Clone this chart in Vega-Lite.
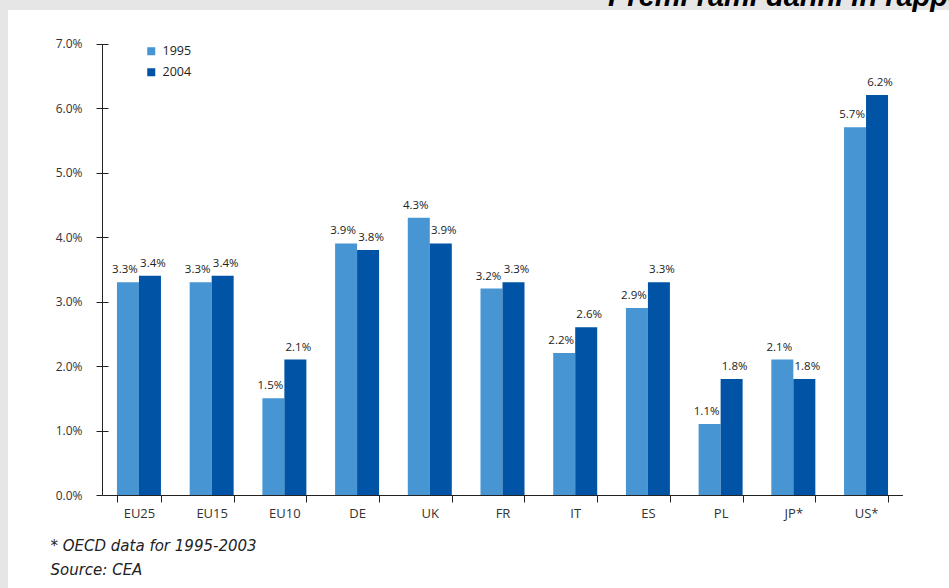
{
  "$schema": "https://vega.github.io/schema/vega-lite/v6.json",
  "autosize": "none",
  "padding": {"left": 8, "top": 10, "right": 0, "bottom": 0},
  "width": 941,
  "height": 578,
  "background": "#e6e6e6",
  "title": {
    "text": "Premi rami danni in rapporto al PIL",
    "orient": "top",
    "anchor": "start",
    "frame": "group",
    "dx": 600,
    "dy": 25,
    "offset": 0,
    "baseline": "alphabetic",
    "font": "Liberation Sans",
    "fontSize": 29,
    "fontWeight": "bold",
    "fontStyle": "italic",
    "color": "#000000"
  },
  "config": {
    "view": {"fill": "#ffffff", "stroke": null},
    "font": "Open Sans",
    "axis": {
      "domainColor": "#222222",
      "tickColor": "#222222",
      "labelColor": "#333333",
      "labelFont": "Open Sans",
      "labelFontSize": 12,
      "grid": false
    }
  },
  "data": {
    "values": [
      {"country": "EU25", "year": "1995", "share": 0.033},
      {"country": "EU25", "year": "2004", "share": 0.034},
      {"country": "EU15", "year": "1995", "share": 0.033},
      {"country": "EU15", "year": "2004", "share": 0.034},
      {"country": "EU10", "year": "1995", "share": 0.015},
      {"country": "EU10", "year": "2004", "share": 0.021},
      {"country": "DE", "year": "1995", "share": 0.039},
      {"country": "DE", "year": "2004", "share": 0.038},
      {"country": "UK", "year": "1995", "share": 0.043},
      {"country": "UK", "year": "2004", "share": 0.039},
      {"country": "FR", "year": "1995", "share": 0.032},
      {"country": "FR", "year": "2004", "share": 0.033},
      {"country": "IT", "year": "1995", "share": 0.022},
      {"country": "IT", "year": "2004", "share": 0.026},
      {"country": "ES", "year": "1995", "share": 0.029},
      {"country": "ES", "year": "2004", "share": 0.033},
      {"country": "PL", "year": "1995", "share": 0.011},
      {"country": "PL", "year": "2004", "share": 0.018},
      {"country": "JP*", "year": "1995", "share": 0.021},
      {"country": "JP*", "year": "2004", "share": 0.018},
      {"country": "US*", "year": "1995", "share": 0.057},
      {"country": "US*", "year": "2004", "share": 0.062}
    ]
  },
  "encoding": {
    "x": {
      "field": "country",
      "type": "nominal",
      "sort": null,
      "scale": {"range": [94.6, 894.4], "paddingInner": 0.395, "paddingOuter": 0.1975},
      "axis": {
        "orient": "bottom",
        "offset": -93,
        "labelAngle": 0,
        "tickBand": "extent",
        "tickSize": 7,
        "labelPadding": 5,
        "labelFontSize": 13,
        "title": ["* OECD data for 1995-2003", "Source: CEA"],
        "titleAnchor": "start",
        "titleAlign": "left",
        "titleBaseline": "top",
        "titleX": 42,
        "titleY": 43,
        "titleFont": "DejaVu Sans",
        "titleFontSize": 15,
        "titleFontStyle": "italic",
        "titleFontWeight": "normal",
        "titleColor": "#222222",
        "titleLineHeight": 24
      }
    },
    "xOffset": {"field": "year", "type": "nominal", "scale": {"paddingInner": 0, "paddingOuter": 0}},
    "y": {
      "field": "share",
      "type": "quantitative",
      "scale": {"domain": [0, 0.07], "range": [485, 33.5], "nice": false, "zero": true}
    }
  },
  "layer": [
    {
      "mark": {"type": "bar"},
      "encoding": {
        "y": {
          "field": "share",
          "type": "quantitative",
          "scale": {"domain": [0, 0.07], "range": [485, 33.5], "nice": false, "zero": true},
          "axis": {
            "orient": "left",
            "offset": -94,
            "values": [0, 0.01, 0.02, 0.03, 0.04, 0.05, 0.06, 0.07],
            "format": ".1%",
            "tickSize": 6,
            "labelPadding": 14,
            "title": null
          }
        },
        "color": {
          "field": "year",
          "type": "nominal",
          "scale": {"domain": ["1995", "2004"], "range": ["#4795d2", "#0053a5"]},
          "legend": {
            "orient": "none",
            "legendX": 137,
            "legendY": 35,
            "title": null,
            "symbolType": "square",
            "symbolSize": 64,
            "symbolStrokeWidth": 0,
            "labelFont": "Open Sans",
            "labelFontSize": 12.5,
            "labelColor": "#222222",
            "labelOffset": 5,
            "rowPadding": 8
          }
        }
      }
    },
    {
      "transform": [{"filter": "datum.year === '1995'"}],
      "mark": {"type": "text", "baseline": "bottom", "dy": -7, "dx": -3, "fontSize": 11.5, "font": "Open Sans", "color": "#222222"},
      "encoding": {
        "y": {
          "field": "share",
          "type": "quantitative",
          "scale": {"domain": [0, 0.07], "range": [485, 33.5], "nice": false, "zero": true},
          "axis": {
            "orient": "left",
            "offset": -94,
            "values": [0, 0.01, 0.02, 0.03, 0.04, 0.05, 0.06, 0.07],
            "tickSize": -6,
            "labels": false,
            "domain": false,
            "title": null
          }
        },
        "text": {"field": "share", "type": "quantitative", "format": ".1%"}
      }
    },
    {
      "transform": [{"filter": "datum.year === '2004'"}],
      "mark": {"type": "text", "baseline": "bottom", "dy": -7, "dx": 3, "fontSize": 11.5, "font": "Open Sans", "color": "#222222"},
      "encoding": {
        "y": {
          "field": "share",
          "type": "quantitative",
          "scale": {"domain": [0, 0.07], "range": [485, 33.5], "nice": false, "zero": true},
          "axis": null
        },
        "text": {"field": "share", "type": "quantitative", "format": ".1%"}
      }
    }
  ],
  "resolve": {"axis": {"y": "independent"}}
}
